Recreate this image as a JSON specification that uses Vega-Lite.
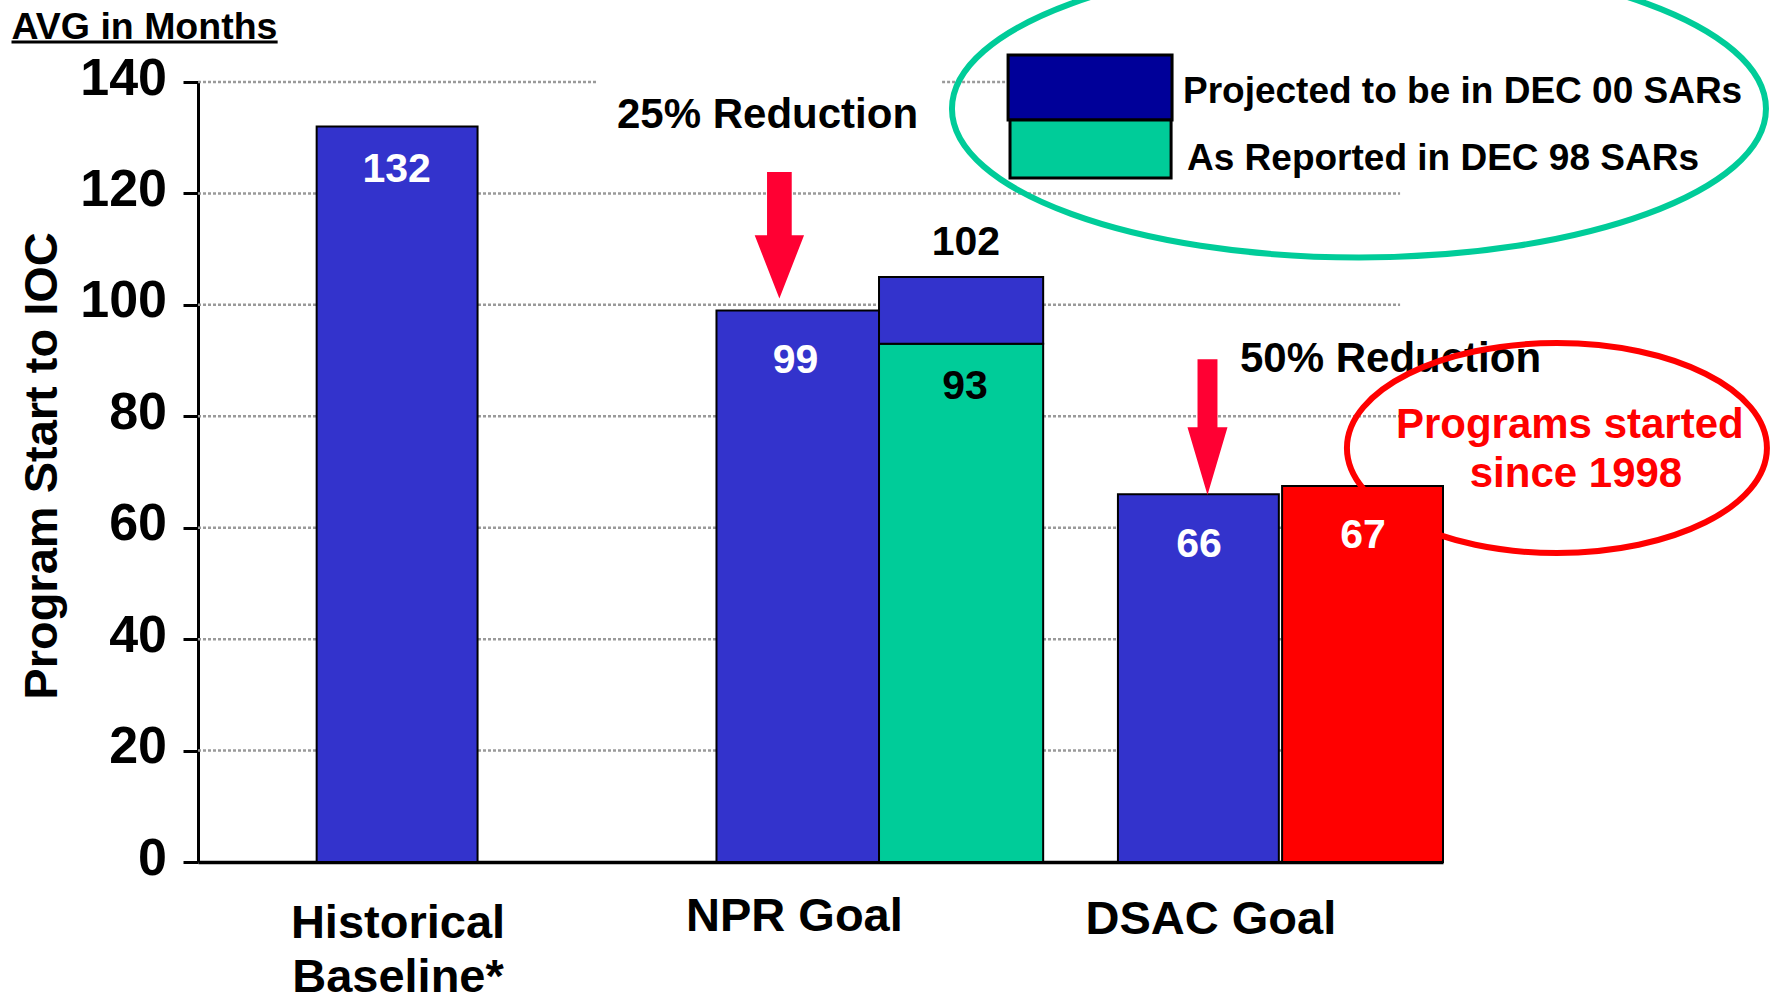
{
  "$schema": "https://vega.github.io/schema/vega-lite/v6.json",
  "width": 1245,
  "height": 780,
  "autosize": {"type": "none"},
  "padding": {"left": 198, "top": 82, "right": 330, "bottom": 140},
  "background": "white",
  "config": {"view": {"stroke": null}, "text": {"font": "Liberation Sans", "fontWeight": "bold"}},
  "datasets": {
    "grid": [
      {"y": 20, "x0": 0, "x1": 7.396}, {"y": 40, "x0": 0, "x1": 7.396}, {"y": 60, "x0": 0, "x1": 7.396},
      {"y": 80, "x0": 0, "x1": 7.396}, {"y": 100, "x0": 0, "x1": 7.396}, {"y": 120, "x0": 0, "x1": 7.396},
      {"y": 140, "x0": 0, "x1": 2.449}, {"y": 140, "x0": 4.578, "x1": 4.984}
    ],
    "bars": [
      {"group": "Historical Baseline*", "series": "Projected", "x0": 0.73, "x1": 1.72, "y0": 0, "y1": 132},
      {"group": "NPR Goal", "series": "Projected", "x0": 3.19, "x1": 4.19, "y0": 0, "y1": 99},
      {"group": "NPR Goal", "series": "Reported", "x0": 4.19, "x1": 5.2, "y0": 0, "y1": 93},
      {"group": "NPR Goal", "series": "Projected", "x0": 4.19, "x1": 5.2, "y0": 93, "y1": 105},
      {"group": "DSAC Goal", "series": "Projected", "x0": 5.66, "x1": 6.65, "y0": 0, "y1": 66},
      {"group": "DSAC Goal", "series": "Since 1998", "x0": 6.67, "x1": 7.66, "y0": 0, "y1": 67.5}
    ],
    "arrow1": [{"x": 3.577, "y": 112.5}],
    "arrow2": [{"x": 6.211, "y": 78.05}],
    "legendProj": [{"x0": 4.984, "x1": 5.993, "y0": 133.19, "y1": 144.86}],
    "legendRep": [{"x0": 4.996, "x1": 5.987, "y0": 122.78, "y1": 133.19}],
    "whiteLabels": [
      {"t": "132", "x": 1.2225, "y": 122.1}, {"t": "99", "x": 3.676, "y": 87.8},
      {"t": "66", "x": 6.159, "y": 54.8}, {"t": "67", "x": 7.168, "y": 56.3}
    ],
    "blackLabels": [{"t": "93", "x": 4.719, "y": 83.05}, {"t": "102", "x": 4.725, "y": 109}],
    "notes": [{"t": "25% Reduction", "x": 2.578, "y": 131.7}, {"t": "50% Reduction", "x": 6.411, "y": 88.0}],
    "legendText": [
      {"t": "Projected to be in DEC 00 SARs", "x": 6.06, "y": 136.3},
      {"t": "As Reported in DEC 98 SARs", "x": 6.085, "y": 124.2}
    ],
    "redNote": [{"t": "Programs started", "x": 8.44, "y": 76.05}, {"t": "since 1998", "x": 8.478, "y": 67.37}],
    "avg": [{"t": "AVG in Months", "x": -1.1475, "y": 147.7}],
    "avgLine": [{"x0": -1.1475, "x1": 0.49, "y": 147.2}],
    "ytitle": [{"t": "Program Start to IOC", "x": -0.8675, "y": 71.08}],
    "xlabels": [
      {"t": "Historical", "x": 1.2305, "y": -13.6}, {"t": "Baseline*", "x": 1.2305, "y": -23.3},
      {"t": "NPR Goal", "x": 3.6695, "y": -12.39}, {"t": "DSAC Goal", "x": 6.232, "y": -12.92}
    ],
    "ellGreen": [{"x": 7.143, "y": 135.2}],
    "ellRed": [{"x": 8.361, "y": 74.3}]
  },
  "resolve": {"axis": {"x": "independent", "y": "independent"}},
  "layer": [
    {
      "data": {"name": "grid"},
      "mark": {"type": "rule", "color": "#9a9a9a", "strokeWidth": 2.5, "strokeDash": [3, 2]},
      "encoding": {
        "x": {"field": "x0", "type": "quantitative", "scale": {"domain": [0, 7.66], "nice": false, "zero": false},
          "axis": {"labels": false, "ticks": false, "grid": false, "title": null, "domainColor": "#000", "domainWidth": 3.5}},
        "x2": {"field": "x1"},
        "y": {"field": "y", "type": "quantitative", "scale": {"domain": [0, 140], "nice": false},
          "axis": {"values": [0, 20, 40, 60, 80, 100, 120, 140], "grid": false, "title": null,
            "labelFont": "Liberation Sans", "labelFontWeight": "bold", "labelFontSize": 52, "labelColor": "#000",
            "labelPadding": 16.5, "labelOffset": -4, "tickSize": 15, "tickWidth": 3, "tickColor": "#000",
            "domainColor": "#000", "domainWidth": 3}}
      }
    },
    {
      "data": {"name": "bars"},
      "mark": {"type": "rect", "stroke": "#000", "strokeWidth": 2},
      "encoding": {
        "x": {"field": "x0", "type": "quantitative", "axis": null},
        "x2": {"field": "x1"},
        "y": {"field": "y0", "type": "quantitative", "axis": null},
        "y2": {"field": "y1"},
        "color": {"field": "series", "type": "nominal", "legend": null,
          "scale": {"domain": ["Projected", "Reported", "Since 1998"], "range": ["#3333CC", "#00CC99", "#FF0000"]}}
      }
    },
    {
      "data": {"name": "arrow1"},
      "mark": {"type": "point", "filled": true, "opacity": 1, "color": "#FF0033", "size": 16028,
        "shape": "M -0.195 -1 L 0.195 -1 L 0.195 0 L 0.39 0 L 0 1 L -0.39 0 L -0.195 0 Z"},
      "encoding": {"x": {"field": "x", "type": "quantitative", "axis": null}, "y": {"field": "y", "type": "quantitative", "axis": null}}
    },
    {
      "data": {"name": "arrow2"},
      "mark": {"type": "point", "filled": true, "opacity": 1, "color": "#FF0033", "size": 18414,
        "shape": "M -0.147 -1 L 0.147 -1 L 0.147 0 L 0.295 0 L 0 1 L -0.295 0 L -0.147 0 Z"},
      "encoding": {"x": {"field": "x", "type": "quantitative", "axis": null}, "y": {"field": "y", "type": "quantitative", "axis": null}}
    },
    {
      "data": {"name": "legendProj"},
      "mark": {"type": "rect", "fill": "#000099", "stroke": "#000", "strokeWidth": 3},
      "encoding": {"x": {"field": "x0", "type": "quantitative", "axis": null}, "x2": {"field": "x1"},
        "y": {"field": "y0", "type": "quantitative", "axis": null}, "y2": {"field": "y1"}}
    },
    {
      "data": {"name": "legendRep"},
      "mark": {"type": "rect", "fill": "#00CC99", "stroke": "#000", "strokeWidth": 3},
      "encoding": {"x": {"field": "x0", "type": "quantitative", "axis": null}, "x2": {"field": "x1"},
        "y": {"field": "y0", "type": "quantitative", "axis": null}, "y2": {"field": "y1"}}
    },
    {
      "data": {"name": "whiteLabels"},
      "mark": {"type": "text", "color": "#FFFFFF", "fontSize": 41, "align": "center", "baseline": "alphabetic"},
      "encoding": {"x": {"field": "x", "type": "quantitative", "axis": null}, "y": {"field": "y", "type": "quantitative", "axis": null},
        "text": {"field": "t", "type": "nominal"}}
    },
    {
      "data": {"name": "blackLabels"},
      "mark": {"type": "text", "color": "#000000", "fontSize": 41, "align": "center", "baseline": "alphabetic"},
      "encoding": {"x": {"field": "x", "type": "quantitative", "axis": null}, "y": {"field": "y", "type": "quantitative", "axis": null},
        "text": {"field": "t", "type": "nominal"}}
    },
    {
      "data": {"name": "notes"},
      "mark": {"type": "text", "color": "#000000", "fontSize": 42, "align": "left", "baseline": "alphabetic"},
      "encoding": {"x": {"field": "x", "type": "quantitative", "axis": null}, "y": {"field": "y", "type": "quantitative", "axis": null},
        "text": {"field": "t", "type": "nominal"}}
    },
    {
      "data": {"name": "legendText"},
      "mark": {"type": "text", "color": "#000000", "fontSize": 37, "align": "left", "baseline": "alphabetic"},
      "encoding": {"x": {"field": "x", "type": "quantitative", "axis": null}, "y": {"field": "y", "type": "quantitative", "axis": null},
        "text": {"field": "t", "type": "nominal"}}
    },
    {
      "data": {"name": "redNote"},
      "mark": {"type": "text", "color": "#FF0000", "fontSize": 42, "align": "center", "baseline": "alphabetic"},
      "encoding": {"x": {"field": "x", "type": "quantitative", "axis": null}, "y": {"field": "y", "type": "quantitative", "axis": null},
        "text": {"field": "t", "type": "nominal"}}
    },
    {
      "data": {"name": "avg"},
      "mark": {"type": "text", "color": "#000000", "fontSize": 37.5, "align": "left", "baseline": "alphabetic"},
      "encoding": {"x": {"field": "x", "type": "quantitative", "axis": null}, "y": {"field": "y", "type": "quantitative", "axis": null},
        "text": {"field": "t", "type": "nominal"}}
    },
    {
      "data": {"name": "avgLine"},
      "mark": {"type": "rule", "color": "#000000", "strokeWidth": 3},
      "encoding": {"x": {"field": "x0", "type": "quantitative", "axis": null}, "x2": {"field": "x1"},
        "y": {"field": "y", "type": "quantitative", "axis": null}}
    },
    {
      "data": {"name": "ytitle"},
      "mark": {"type": "text", "color": "#000000", "fontSize": 47, "angle": 270, "align": "center", "baseline": "alphabetic"},
      "encoding": {"x": {"field": "x", "type": "quantitative", "axis": null}, "y": {"field": "y", "type": "quantitative", "axis": null},
        "text": {"field": "t", "type": "nominal"}}
    },
    {
      "data": {"name": "xlabels"},
      "mark": {"type": "text", "color": "#000000", "fontSize": 47, "align": "center", "baseline": "alphabetic"},
      "encoding": {"x": {"field": "x", "type": "quantitative", "axis": null}, "y": {"field": "y", "type": "quantitative", "axis": null},
        "text": {"field": "t", "type": "nominal"}}
    },
    {
      "data": {"name": "ellGreen"},
      "mark": {"type": "point", "filled": false, "opacity": 1, "stroke": "#00CC99", "strokeWidth": 6, "size": 662596,
        "shape": "M -1 0 C -1 -0.2018 -0.5523 -0.3654 0 -0.3654 C 0.5523 -0.3654 1 -0.2018 1 0 C 1 0.2018 0.5523 0.3654 0 0.3654 C -0.5523 0.3654 -1 0.2018 -1 0 Z"},
      "encoding": {"x": {"field": "x", "type": "quantitative", "axis": null}, "y": {"field": "y", "type": "quantitative", "axis": null}}
    },
    {
      "data": {"name": "ellRed"},
      "mark": {"type": "point", "filled": false, "opacity": 1, "stroke": "#FF0000", "strokeWidth": 6, "size": 176400,
        "shape": "M -1 0 C -1 -0.2762 -0.5523 -0.5 0 -0.5 C 0.5523 -0.5 1 -0.2762 1 0 C 1 0.2762 0.5523 0.5 0 0.5 C -0.5523 0.5 -1 0.2762 -1 0 Z"},
      "encoding": {"x": {"field": "x", "type": "quantitative", "axis": null}, "y": {"field": "y", "type": "quantitative", "axis": null}}
    }
  ]
}
